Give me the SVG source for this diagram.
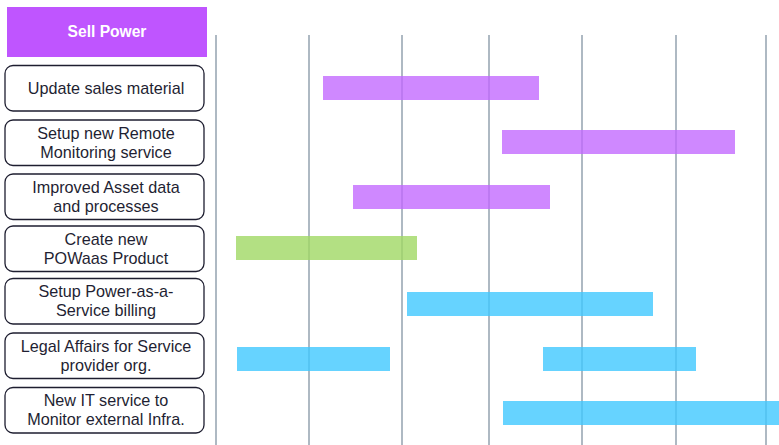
<svg xmlns="http://www.w3.org/2000/svg" width="779" height="445" viewBox="0 0 779 445">
<style>
.grid line{stroke:#aeb9c3;stroke-width:2}
.node rect{fill:#fff;stroke:#1e1e30;stroke-width:1.3}
.node text{font-family:"Liberation Sans",Arial,sans-serif;font-size:16.2px;fill:#1f1f33;text-anchor:middle}
.p{fill:#c266ff;fill-opacity:0.78}
.g{fill:#a0d864;fill-opacity:0.8}
.b{fill:#40c8ff;fill-opacity:0.8}
</style>
<rect width="779" height="445" fill="#fff"/>
<g id="header">
<rect x="7" y="7" width="200" height="50" fill="#bf55ff"/>
<text x="107" y="37" font-family="Liberation Sans,Arial,sans-serif" font-size="15.6" font-weight="bold" fill="#fff" text-anchor="middle">Sell Power</text>
</g>
<g class="grid">
<line x1="216" y1="35" x2="216" y2="445"/>
<line x1="309" y1="35" x2="309" y2="445"/>
<line x1="402" y1="35" x2="402" y2="445"/>
<line x1="489" y1="35" x2="489" y2="445"/>
<line x1="582" y1="35" x2="582" y2="445"/>
<line x1="676" y1="35" x2="676" y2="445"/>
<line x1="766" y1="35" x2="766" y2="445"/>
</g>
<g id="n1" class="node"><rect x="5" y="65.5" width="199" height="45.5" rx="8"/><text x="106" y="93.8">Update sales material</text></g>
<g id="n2" class="node"><rect x="5" y="120" width="199" height="45.5" rx="8"/><text x="106" y="138.8">Setup new Remote</text><text x="106" y="157.8">Monitoring service</text></g>
<g id="n3" class="node"><rect x="5" y="174" width="199" height="45.5" rx="8"/><text x="106" y="192.8">Improved Asset data</text><text x="106" y="211.8">and processes</text></g>
<g id="n4" class="node"><rect x="5" y="226" width="199" height="45.5" rx="8"/><text x="106" y="244.8">Create new</text><text x="106" y="263.8">POWaas Product</text></g>
<g id="n5" class="node"><rect x="5" y="278.5" width="199" height="45.5" rx="8"/><text x="106" y="297.3">Setup Power-as-a-</text><text x="106" y="316.3">Service billing</text></g>
<g id="n6" class="node"><rect x="5" y="333" width="199" height="45.5" rx="8"/><text x="106" y="351.8">Legal Affairs for Service</text><text x="106" y="370.8">provider org.</text></g>
<g id="n7" class="node"><rect x="5" y="387.5" width="199" height="45.5" rx="8"/><text x="106" y="406.3">New IT service to</text><text x="106" y="425.3">Monitor external Infra.</text></g>
<g id="bars">
<rect class="p" x="323" y="76" width="216" height="24"/>
<rect class="p" x="502" y="130" width="233" height="24"/>
<rect class="p" x="353" y="185" width="197" height="24"/>
<rect class="g" x="236" y="236" width="181" height="24"/>
<rect class="b" x="407" y="292" width="246" height="24"/>
<rect class="b" x="237" y="347" width="153" height="24"/>
<rect class="b" x="543" y="347" width="153" height="24"/>
<rect class="b" x="503" y="401" width="276" height="24"/>
</g>
</svg>
